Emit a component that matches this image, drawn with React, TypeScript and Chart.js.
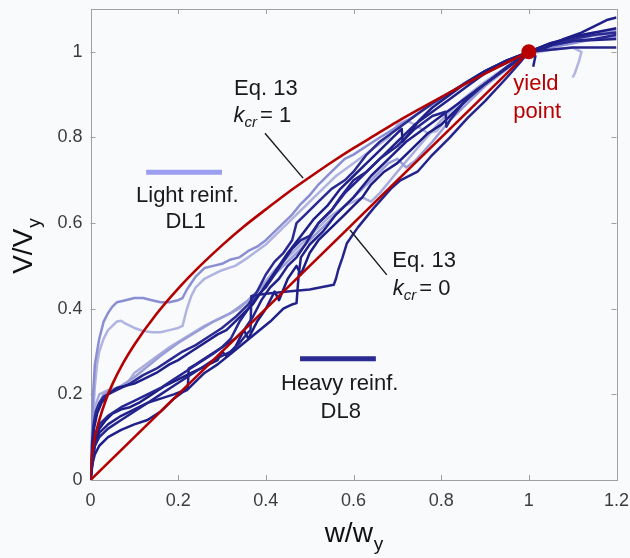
import React, { useEffect, useRef } from 'react';
import { Chart, registerables } from 'chart.js';

Chart.register(...registerables);

type P = [number, number];

const xTickValues = [0, 0.2, 0.4, 0.6, 0.8, 1, 1.2];
const yTickValues = [0, 0.2, 0.4, 0.6, 0.8, 1];

// Eq. 13 with k_cr = 1 (curved) and k_cr = 0 (straight)
const eq13Kcr1: P[] = [
  [0, 0], [0.002, 0.045], [0.005, 0.07], [0.01, 0.1], [0.02, 0.14], [0.035, 0.187], [0.05, 0.224],
  [0.075, 0.274], [0.1, 0.316], [0.15, 0.387], [0.2, 0.447], [0.25, 0.5], [0.3, 0.548], [0.35, 0.592],
  [0.4, 0.632], [0.45, 0.671], [0.5, 0.707], [0.55, 0.742], [0.6, 0.775], [0.65, 0.806], [0.7, 0.837],
  [0.75, 0.866], [0.8, 0.894], [0.85, 0.922], [0.9, 0.949], [0.95, 0.975], [1, 1],
];
const eq13Kcr0: P[] = [[0, 0], [1, 1]];
const yieldPoint: P[] = [[1, 1]];

// Light reinforcement tests (DL1 family)
const light1: P[] = [
  [0, 0], [0.003, 0.1], [0.006, 0.2], [0.01, 0.27], [0.015, 0.3], [0.02, 0.33], [0.03, 0.37], [0.04, 0.39],
  [0.05, 0.405], [0.06, 0.415], [0.08, 0.42], [0.1, 0.425], [0.12, 0.425], [0.14, 0.42], [0.16, 0.415],
  [0.18, 0.415], [0.2, 0.42], [0.21, 0.425], [0.215, 0.435], [0.22, 0.445], [0.23, 0.46], [0.24, 0.475],
  [0.26, 0.495], [0.28, 0.5], [0.3, 0.505], [0.32, 0.515], [0.34, 0.52], [0.36, 0.535], [0.38, 0.545],
  [0.4, 0.56], [0.42, 0.58], [0.44, 0.6], [0.46, 0.62], [0.48, 0.645], [0.5, 0.665], [0.52, 0.69],
  [0.55, 0.72], [0.58, 0.75], [0.6, 0.76], [0.63, 0.78], [0.66, 0.8], [0.7, 0.825], [0.73, 0.845],
  [0.76, 0.865], [0.8, 0.89], [0.85, 0.925], [0.9, 0.955], [0.95, 0.98], [1.0, 1.0], [1.05, 1.01],
  [1.1, 1.02], [1.15, 1.03], [1.2, 1.035],
];
const light2: P[] = [
  [0, 0], [0.003, 0.08], [0.006, 0.15], [0.01, 0.22], [0.015, 0.27], [0.02, 0.3], [0.03, 0.33], [0.04, 0.35],
  [0.05, 0.36], [0.06, 0.37], [0.07, 0.372], [0.08, 0.365], [0.1, 0.355], [0.12, 0.348], [0.14, 0.345],
  [0.16, 0.345], [0.18, 0.35], [0.2, 0.355], [0.21, 0.36], [0.215, 0.38], [0.22, 0.4], [0.23, 0.43],
  [0.24, 0.45], [0.26, 0.47], [0.28, 0.48], [0.3, 0.49], [0.33, 0.5], [0.36, 0.52], [0.4, 0.55],
  [0.44, 0.59], [0.48, 0.63], [0.52, 0.67], [0.56, 0.71], [0.6, 0.74], [0.64, 0.77], [0.68, 0.8],
  [0.7, 0.83], [0.72, 0.84], [0.74, 0.83], [0.77, 0.81], [0.79, 0.815], [0.81, 0.84], [0.84, 0.87],
  [0.88, 0.91], [0.92, 0.94], [0.96, 0.97], [1.0, 0.995], [1.05, 1.005], [1.1, 1.01], [1.12, 1.0],
  [1.115, 0.98], [1.105, 0.95], [1.1, 0.94],
];
const light3: P[] = [
  [0, 0], [0.003, 0.08], [0.008, 0.13], [0.015, 0.17], [0.03, 0.2], [0.05, 0.21], [0.07, 0.22], [0.1, 0.24],
  [0.13, 0.265], [0.16, 0.29], [0.2, 0.32], [0.24, 0.345], [0.28, 0.37], [0.32, 0.39], [0.36, 0.42],
  [0.4, 0.46], [0.44, 0.5], [0.48, 0.54], [0.52, 0.58], [0.56, 0.62], [0.6, 0.66], [0.64, 0.7],
  [0.68, 0.74], [0.7, 0.75], [0.72, 0.73], [0.74, 0.745], [0.78, 0.79], [0.82, 0.84], [0.86, 0.88],
  [0.9, 0.92], [0.95, 0.96], [1.0, 1.0], [1.05, 1.02], [1.1, 1.035], [1.15, 1.045], [1.2, 1.05],
];
const light4: P[] = [
  [0, 0], [0.004, 0.12], [0.01, 0.17], [0.02, 0.2], [0.04, 0.21], [0.06, 0.215], [0.08, 0.22], [0.1, 0.25],
  [0.14, 0.28], [0.18, 0.31], [0.22, 0.335], [0.26, 0.36], [0.3, 0.38], [0.34, 0.4], [0.38, 0.44],
  [0.42, 0.49], [0.46, 0.53], [0.5, 0.57], [0.54, 0.61], [0.58, 0.64], [0.62, 0.66], [0.64, 0.65],
  [0.66, 0.67], [0.7, 0.72], [0.75, 0.78], [0.8, 0.84], [0.85, 0.89], [0.9, 0.93], [0.95, 0.965],
  [1.0, 1.0], [1.05, 1.02], [1.1, 1.03], [1.2, 1.045],
];

// Heavy reinforcement tests (DL8 family)
const heavy1: P[] = [
  [0, 0], [0.004, 0.07], [0.008, 0.12], [0.015, 0.155], [0.025, 0.18], [0.04, 0.2], [0.06, 0.215],
  [0.08, 0.22], [0.1, 0.225], [0.12, 0.235], [0.15, 0.25], [0.18, 0.27], [0.2, 0.28], [0.23, 0.3],
  [0.26, 0.32], [0.29, 0.34], [0.31, 0.35], [0.33, 0.37], [0.35, 0.39], [0.37, 0.41], [0.39, 0.44],
  [0.41, 0.47], [0.43, 0.5], [0.45, 0.53], [0.48, 0.57], [0.51, 0.61], [0.54, 0.64], [0.57, 0.68],
  [0.6, 0.71], [0.63, 0.74], [0.66, 0.77], [0.69, 0.8], [0.71, 0.82], [0.712, 0.79], [0.72, 0.8],
  [0.75, 0.84], [0.78, 0.87], [0.82, 0.9], [0.86, 0.93], [0.9, 0.955], [0.95, 0.98], [1.0, 1.0],
  [1.04, 1.01], [1.08, 1.03], [1.12, 1.045], [1.15, 1.06], [1.18, 1.075], [1.2, 1.08],
];
const heavy2: P[] = [
  [0, 0], [0.005, 0.06], [0.01, 0.1], [0.02, 0.13], [0.04, 0.15], [0.07, 0.17], [0.1, 0.185], [0.13, 0.2],
  [0.16, 0.215], [0.19, 0.235], [0.22, 0.255], [0.25, 0.275], [0.28, 0.295], [0.3, 0.31], [0.32, 0.33],
  [0.34, 0.37], [0.36, 0.4], [0.38, 0.43], [0.4, 0.45], [0.42, 0.48], [0.44, 0.51], [0.46, 0.54],
  [0.48, 0.56], [0.5, 0.57], [0.52, 0.6], [0.55, 0.63], [0.58, 0.67], [0.62, 0.71], [0.66, 0.75],
  [0.7, 0.78], [0.74, 0.82], [0.78, 0.85], [0.81, 0.86], [0.812, 0.825], [0.82, 0.84], [0.85, 0.88],
  [0.9, 0.925], [0.95, 0.965], [1.0, 1.0], [1.05, 1.015], [1.1, 1.025], [1.15, 1.03], [1.2, 1.04],
];
const heavy3: P[] = [
  [0, 0], [0.005, 0.04], [0.01, 0.06], [0.02, 0.08], [0.04, 0.1], [0.07, 0.117], [0.1, 0.13], [0.13, 0.14],
  [0.16, 0.16], [0.19, 0.19], [0.21, 0.205], [0.22, 0.21], [0.235, 0.225], [0.26, 0.25], [0.29, 0.27],
  [0.32, 0.295], [0.35, 0.32], [0.38, 0.345], [0.41, 0.37], [0.44, 0.4], [0.46, 0.41], [0.47, 0.413],
  [0.472, 0.44], [0.475, 0.48], [0.48, 0.52], [0.5, 0.55], [0.53, 0.58], [0.56, 0.62], [0.6, 0.66],
  [0.64, 0.71], [0.68, 0.75], [0.72, 0.79], [0.76, 0.82], [0.8, 0.85], [0.84, 0.88], [0.88, 0.91],
  [0.92, 0.94], [0.96, 0.97], [1.0, 1.0], [1.015, 0.99], [1.01, 0.965],
];
const heavy4: P[] = [
  [0, 0], [0.005, 0.05], [0.01, 0.08], [0.02, 0.1], [0.04, 0.12], [0.07, 0.14], [0.1, 0.16], [0.13, 0.18],
  [0.16, 0.2], [0.19, 0.22], [0.22, 0.24], [0.25, 0.26], [0.28, 0.28], [0.3, 0.29], [0.32, 0.3],
  [0.34, 0.32], [0.36, 0.345], [0.365, 0.35], [0.367, 0.43], [0.4, 0.435], [0.45, 0.44], [0.5, 0.445],
  [0.555, 0.456], [0.56, 0.47], [0.565, 0.49], [0.575, 0.52], [0.585, 0.553], [0.61, 0.59],
  [0.646, 0.635], [0.685, 0.68], [0.707, 0.7], [0.746, 0.72], [0.776, 0.755], [0.82, 0.8],
  [0.86, 0.845], [0.9, 0.885], [0.95, 0.94], [0.98, 0.975], [1.0, 1.0], [1.05, 1.005], [1.1, 1.01],
  [1.15, 1.01], [1.2, 1.01],
];
const heavy5: P[] = [
  [0, 0], [0.004, 0.05], [0.01, 0.09], [0.02, 0.12], [0.035, 0.14], [0.05, 0.155], [0.07, 0.165],
  [0.09, 0.17], [0.11, 0.18], [0.14, 0.2], [0.17, 0.22], [0.2, 0.235], [0.23, 0.25], [0.26, 0.265],
  [0.29, 0.28], [0.3, 0.3], [0.31, 0.29], [0.33, 0.31], [0.35, 0.35], [0.36, 0.33], [0.38, 0.37],
  [0.4, 0.4], [0.42, 0.44], [0.43, 0.42], [0.45, 0.47], [0.47, 0.5], [0.48, 0.48], [0.5, 0.53],
  [0.52, 0.56], [0.55, 0.59], [0.58, 0.62], [0.6, 0.64], [0.62, 0.66], [0.64, 0.69], [0.67, 0.72],
  [0.7, 0.74], [0.73, 0.77], [0.77, 0.81], [0.8, 0.83], [0.84, 0.87], [0.88, 0.91], [0.92, 0.94],
  [0.96, 0.97], [1.0, 1.0], [1.05, 1.02], [1.1, 1.035], [1.15, 1.045], [1.2, 1.055],
];
const heavy6: P[] = [
  [0, 0], [0.003, 0.08], [0.007, 0.13], [0.012, 0.16], [0.02, 0.18], [0.03, 0.195], [0.05, 0.205],
  [0.07, 0.215], [0.09, 0.225], [0.12, 0.245], [0.15, 0.26], [0.18, 0.28], [0.21, 0.3], [0.24, 0.315],
  [0.27, 0.335], [0.3, 0.355], [0.33, 0.38], [0.36, 0.41], [0.38, 0.44], [0.4, 0.48], [0.42, 0.51],
  [0.44, 0.53], [0.46, 0.56], [0.47, 0.6], [0.49, 0.62], [0.52, 0.65], [0.55, 0.68], [0.58, 0.7],
  [0.6, 0.72], [0.63, 0.76], [0.66, 0.79], [0.7, 0.82], [0.74, 0.85], [0.78, 0.88], [0.82, 0.905],
  [0.86, 0.93], [0.9, 0.955], [0.95, 0.98], [1.0, 1.0], [1.05, 1.02], [1.1, 1.03], [1.15, 1.04],
  [1.2, 1.045],
];
const heavy7: P[] = [
  [0, 0], [0.005, 0.05], [0.01, 0.08], [0.02, 0.11], [0.04, 0.13], [0.07, 0.15], [0.1, 0.165],
  [0.13, 0.18], [0.16, 0.19], [0.19, 0.2], [0.215, 0.21], [0.222, 0.215], [0.224, 0.26], [0.24, 0.27],
  [0.27, 0.29], [0.3, 0.31], [0.33, 0.33], [0.35, 0.35], [0.37, 0.38], [0.39, 0.42], [0.41, 0.45],
  [0.43, 0.47], [0.45, 0.5], [0.47, 0.52], [0.49, 0.55], [0.52, 0.6], [0.55, 0.63], [0.57, 0.66],
  [0.6, 0.7], [0.63, 0.72], [0.66, 0.75], [0.7, 0.79], [0.74, 0.83], [0.78, 0.86], [0.82, 0.89],
  [0.86, 0.92], [0.9, 0.95], [0.95, 0.975], [1.0, 1.0], [1.05, 1.015], [1.1, 1.025], [1.2, 1.03],
];

const lightSeries = [light1, light2, light3, light4];
const lightColors = ['#8a8ed2', '#b1b4e1', '#9a9ed8', '#aaaddc'];
const heavySeries = [heavy1, heavy2, heavy3, heavy4, heavy5, heavy6, heavy7];
const heavyColors = ['#1f1f88', '#262690', '#20208a', '#24248c', '#1c1c84', '#2a2a92', '#22228a'];

// Annotation geometry (data units)
const leaderKcr1: P[] = [[0.398, 0.81], [0.485, 0.705]];
const leaderKcr0: P[] = [[0.592, 0.584], [0.676, 0.479]];
const lightSample: P[] = [[0.127, 0.719], [0.3, 0.719]];
const heavySample: P[] = [[0.478, 0.283], [0.651, 0.283]];

const textLabels: { text: string; x: number; y: number; align: 'center' | 'left'; color: string }[] = [
  { text: 'Eq. 13', x: 0.4, y: 0.899, align: 'center', color: '#1a1a1a' },
  { text: 'Light reinf.', x: 0.221, y: 0.65, align: 'center', color: '#1a1a1a' },
  { text: 'DL1', x: 0.217, y: 0.588, align: 'center', color: '#1a1a1a' },
  { text: 'Heavy reinf.', x: 0.5685, y: 0.21, align: 'center', color: '#1a1a1a' },
  { text: 'DL8', x: 0.571, y: 0.144, align: 'center', color: '#1a1a1a' },
  { text: 'Eq. 13', x: 0.761, y: 0.498, align: 'center', color: '#1a1a1a' },
  { text: 'yield', x: 0.9646, y: 0.911, align: 'left', color: '#b80000' },
  { text: 'point', x: 0.9646, y: 0.845, align: 'left', color: '#b80000' },
];
const kcrLabels: { value: string; x: number; y: number }[] = [
  { value: '1', x: 0.392, y: 0.837 },
  { value: '0', x: 0.7556, y: 0.432 },
];

const FONT = '"Liberation Sans", Arial, Helvetica, sans-serif';
const BG = '#f9fafc';

const toXY = (arr: P[]) => arr.map(([x, y]) => ({ x, y }));

const decorPlugin = {
  id: 'decor',
  beforeDraw(chart: any) {
    const { ctx, width, height } = chart;
    ctx.save();
    ctx.fillStyle = BG;
    ctx.fillRect(0, 0, width, height);
    ctx.restore();
  },
  beforeDatasetsDraw(chart: any) {
    const { ctx, chartArea: a, scales } = chart;
    ctx.save();
    ctx.strokeStyle = '#a0a0a0';
    ctx.lineWidth = 1;
    ctx.strokeRect(Math.round(a.left) + 0.5, Math.round(a.top) + 0.5, Math.round(a.right - a.left), Math.round(a.bottom - a.top));
    const tl = 5;
    scales.x.ticks.forEach((t: any) => {
      const px = Math.round(scales.x.getPixelForValue(t.value)) + 0.5;
      ctx.beginPath();
      ctx.moveTo(px, a.bottom);
      ctx.lineTo(px, a.bottom - tl);
      ctx.moveTo(px, a.top);
      ctx.lineTo(px, a.top + tl);
      ctx.stroke();
    });
    scales.y.ticks.forEach((t: any) => {
      const py = Math.round(scales.y.getPixelForValue(t.value)) + 0.5;
      ctx.beginPath();
      ctx.moveTo(a.left, py);
      ctx.lineTo(a.left + tl, py);
      ctx.moveTo(a.right, py);
      ctx.lineTo(a.right - tl, py);
      ctx.stroke();
    });
    ctx.restore();
  },
  afterDatasetsDraw(chart: any) {
    const { ctx, chartArea: a, scales } = chart;
    const sx = scales.x;
    const sy = scales.y;
    ctx.save();
    ctx.textBaseline = 'alphabetic';
    ctx.font = `22px ${FONT}`;
    textLabels.forEach((l) => {
      ctx.fillStyle = l.color;
      ctx.textAlign = l.align;
      ctx.fillText(l.text, sx.getPixelForValue(l.x), sy.getPixelForValue(l.y));
    });
    ctx.textAlign = 'left';
    ctx.fillStyle = '#1a1a1a';
    kcrLabels.forEach((k) => {
      const fk = `italic 22px ${FONT}`;
      const fs = `italic 15px ${FONT}`;
      const fr = `22px ${FONT}`;
      const rest = `= ${k.value}`;
      ctx.font = fk;
      const wk = ctx.measureText('k').width;
      ctx.font = fs;
      const ws = ctx.measureText('cr').width;
      ctx.font = fr;
      const wr = ctx.measureText(rest).width;
      const gap = 3;
      const total = wk + ws + gap + wr;
      let x = sx.getPixelForValue(k.x) - total / 2;
      const y = sy.getPixelForValue(k.y);
      ctx.font = fk;
      ctx.fillText('k', x, y);
      x += wk;
      ctx.font = fs;
      ctx.fillText('cr', x, y + 5);
      x += ws + gap;
      ctx.font = fr;
      ctx.fillText(rest, x, y);
    });

    // axis titles
    ctx.fillStyle = '#111111';
    const main = `28px ${FONT}`;
    const sub = `19px ${FONT}`;
    ctx.font = main;
    const wMain = ctx.measureText('w/w').width;
    ctx.font = sub;
    const wSub = ctx.measureText('y').width;
    const cx = (a.left + a.right) / 2;
    const x0 = cx - (wMain + wSub) / 2;
    const by = a.bottom + 62;
    ctx.font = main;
    ctx.fillText('w/w', x0, by);
    ctx.font = sub;
    ctx.fillText('y', x0 + wMain + 1, by + 8);
    ctx.save();
    ctx.font = main;
    const vMain = ctx.measureText('V/V').width;
    ctx.font = sub;
    const vSub = ctx.measureText('y').width;
    const cy = (a.top + a.bottom) / 2 + 2;
    ctx.translate(32, cy + (vMain + vSub) / 2);
    ctx.rotate(-Math.PI / 2);
    ctx.font = main;
    ctx.fillText('V/V', 0, 0);
    ctx.font = sub;
    ctx.fillText('y', vMain + 1, 8);
    ctx.restore();
    ctx.restore();
  },
};

export default function App() {
  const ref = useRef<HTMLCanvasElement | null>(null);

  useEffect(() => {
    if (!ref.current) return;
    const datasets: any[] = [];
    datasets.push({
      label: 'yield point', data: toXY(yieldPoint), showLine: false, pointRadius: 7.5,
      pointBackgroundColor: '#b80000', pointBorderColor: '#b80000', pointBorderWidth: 0,
    });
    datasets.push({
      label: 'Eq. 13 kcr=0', data: toXY(eq13Kcr0), showLine: true, borderColor: '#b30000',
      borderWidth: 2.6, pointRadius: 0,
    });
    datasets.push({
      label: 'Eq. 13 kcr=1', data: toXY(eq13Kcr1), showLine: true, borderColor: '#b30000',
      borderWidth: 2.6, pointRadius: 0, cubicInterpolationMode: 'monotone',
    });
    datasets.push({
      label: 'leader1', data: toXY(leaderKcr1), showLine: true, borderColor: '#1a1a1a', borderWidth: 1.4, pointRadius: 0,
    });
    datasets.push({
      label: 'leader0', data: toXY(leaderKcr0), showLine: true, borderColor: '#1a1a1a', borderWidth: 1.4, pointRadius: 0,
    });
    datasets.push({
      label: 'light sample', data: toXY(lightSample), showLine: true, borderColor: '#9c9ff0', borderWidth: 5, pointRadius: 0,
    });
    datasets.push({
      label: 'heavy sample', data: toXY(heavySample), showLine: true, borderColor: '#2a2a92', borderWidth: 5, pointRadius: 0,
    });
    heavySeries.forEach((s, i) => {
      datasets.push({
        label: `heavy ${i + 1}`, data: toXY(s), showLine: true, borderColor: heavyColors[i],
        borderWidth: 2.5, pointRadius: 0, borderJoinStyle: 'round',
      });
    });
    lightSeries.forEach((s, i) => {
      datasets.push({
        label: `light ${i + 1}`, data: toXY(s), showLine: true, borderColor: lightColors[i],
        borderWidth: 2.5, pointRadius: 0, borderJoinStyle: 'round',
      });
    });

    const zeroPad = (scale: any) => {
      scale.paddingTop = 0;
      scale.paddingBottom = 0;
      scale.paddingLeft = 0;
      scale.paddingRight = 0;
    };

    const chart = new Chart(ref.current, {
      type: 'scatter',
      data: { datasets },
      options: {
        animation: false,
        responsive: false,
        devicePixelRatio: 1,
        layout: { padding: { left: 0, right: 13.5, top: 9, bottom: 0 } },
        plugins: { legend: { display: false }, tooltip: { enabled: false } },
        scales: {
          x: {
            type: 'linear', min: 0, max: 1.2,
            afterBuildTicks: (scale: any) => { scale.ticks = xTickValues.map((v) => ({ value: v })); },
            afterFit: (scale: any) => { scale.height = 78; zeroPad(scale); },
            grid: { display: false, drawTicks: false },
            border: { display: false },
            ticks: {
              color: '#3c3c3c', padding: 10, font: { size: 18, family: FONT },
              callback: (v: any) => String(Math.round(Number(v) * 10) / 10),
            },
          },
          y: {
            type: 'linear', min: 0, max: 1.1,
            afterBuildTicks: (scale: any) => { scale.ticks = yTickValues.map((v) => ({ value: v })); },
            afterFit: (scale: any) => { scale.width = 90.5; zeroPad(scale); },
            grid: { display: false, drawTicks: false },
            border: { display: false },
            ticks: {
              color: '#3c3c3c', padding: 8, font: { size: 18, family: FONT },
              callback: (v: any) => String(Math.round(Number(v) * 10) / 10),
            },
          },
        },
      },
      plugins: [decorPlugin],
    } as any);
    return () => chart.destroy();
  }, []);

  return (
    <div style={{ position: 'fixed', left: 0, top: 0, width: 630, height: 558, background: BG }}>
      <canvas ref={ref} width={630} height={558} style={{ display: 'block', width: 630, height: 558 }} />
    </div>
  );
}
